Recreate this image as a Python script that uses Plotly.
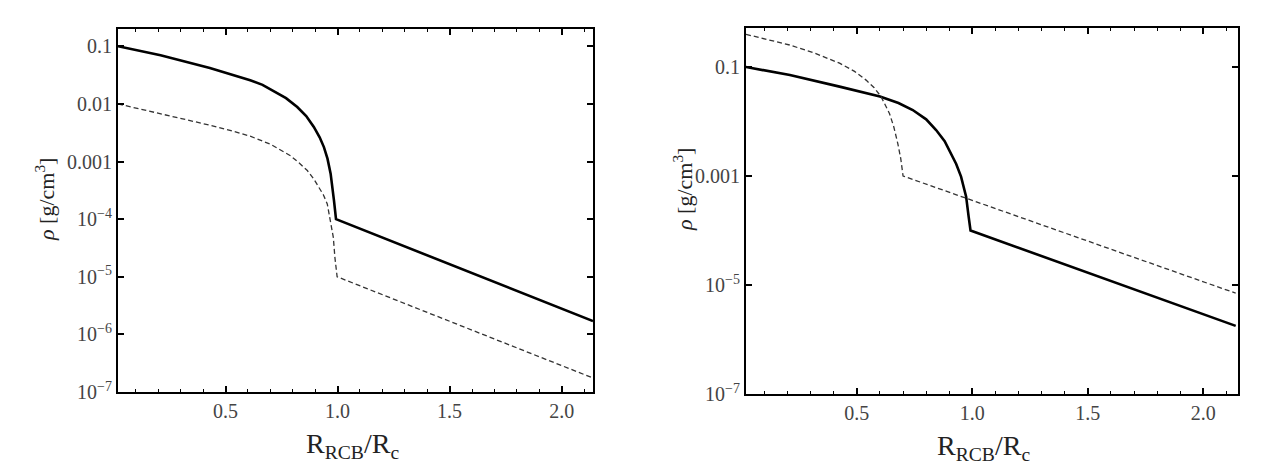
import plotly.graph_objects as go

# left panel: solid and dashed density profiles
left_solid_x = [0.02, 0.21, 0.43, 0.52, 0.61, 0.665, 0.71, 0.77, 0.82, 0.86, 0.894, 0.92, 0.939,
                0.955, 0.969, 0.977, 0.984, 0.993, 2.14]
left_solid_rho = [0.100, 0.0697, 0.0420, 0.0331, 0.0257, 0.0214, 0.0172, 0.0126, 0.00881, 0.00617,
                  0.00398, 0.00263, 0.00178, 0.00112, 0.000617, 0.00038, 0.000209, 0.0001, 1.70e-6]

left_dash_x = [0.02, 0.25, 0.43, 0.52, 0.61, 0.70, 0.79, 0.83, 0.865, 0.895, 0.917, 0.937, 0.954,
               0.969, 0.981, 0.988, 0.998, 2.14]
left_dash_rho = [0.0100, 0.0063, 0.00427, 0.00347, 0.00275, 0.00200, 0.00126, 0.000933, 0.000697,
                 0.000490, 0.000357, 0.000263, 0.000184, 0.0000942, 0.0000483, 0.0000217, 0.00001,
                 1.75e-7]

# right panel
right_solid_x = [0.02, 0.21, 0.425, 0.60, 0.68, 0.742, 0.80, 0.843, 0.88, 0.908, 0.93, 0.951,
                 0.973, 0.984, 0.992, 2.14]
right_solid_rho = [0.100, 0.0713, 0.0437, 0.0288, 0.0219, 0.01626, 0.01096, 0.00698, 0.00437,
                   0.00261, 0.00166, 0.000977, 0.000417, 0.000178, 0.0001, 1.78e-6]

right_dash_x = [0.02, 0.209, 0.32, 0.425, 0.49, 0.54, 0.575, 0.605, 0.641, 0.66, 0.677, 0.69,
                0.70, 2.14]
right_dash_rho = [0.398, 0.2535, 0.178, 0.1175, 0.0832, 0.0575, 0.0417, 0.0285, 0.0141, 0.00794,
                  0.00398, 0.00209, 0.001, 7.08e-6]

left_yticks = [1e-7, 1e-6, 1e-5, 1e-4, 1e-3, 1e-2, 1e-1]
left_ylabels = ["10<sup>\u22127</sup>", "10<sup>\u22126</sup>", "10<sup>\u22125</sup>",
                "10<sup>\u22124</sup>", "0.001", "0.01", "0.1"]
right_yticks = [1e-7, 1e-5, 1e-3, 1e-1]
right_ylabels = ["10<sup>\u22127</sup>", "10<sup>\u22125</sup>", "0.001", "0.1"]
xticks = [0.5, 1.0, 1.5, 2.0]
xlabels = ["0.5", "1.0", "1.5", "2.0"]

FONT = "Liberation Serif"
W, H = 1266, 472

fig = go.Figure()
fig.add_trace(go.Scatter(x=left_solid_x, y=left_solid_rho, mode="lines",
                         line=dict(color="black", width=2.6), xaxis="x", yaxis="y"))
fig.add_trace(go.Scatter(x=left_dash_x, y=left_dash_rho, mode="lines",
                         line=dict(color="#333", width=1.3, dash="5px,3px"), xaxis="x", yaxis="y"))
fig.add_trace(go.Scatter(x=right_solid_x, y=right_solid_rho, mode="lines",
                         line=dict(color="black", width=2.6), xaxis="x2", yaxis="y2"))
fig.add_trace(go.Scatter(x=right_dash_x, y=right_dash_rho, mode="lines",
                         line=dict(color="#333", width=1.3, dash="5px,3px"), xaxis="x2", yaxis="y2"))

axis_common = dict(showline=True, linecolor="black", linewidth=2, mirror="allticks",
                   ticks="inside", ticklen=6, tickwidth=1.5, tickcolor="black",
                   showgrid=False, zeroline=False, automargin=False,
                   tickfont=dict(family=FONT, size=20, color="#444"))

xminor = dict(ticks="inside", dtick=0.1, tick0=0, ticklen=3, tickwidth=1.2, tickcolor="black", showgrid=False)

fig.update_layout(
    width=W, height=H,
    margin=dict(l=0, r=0, t=0, b=0, autoexpand=False),
    paper_bgcolor="white", plot_bgcolor="white",
    showlegend=False,
    xaxis=dict(domain=[118 / W, 593 / W], range=[0.02, 2.14], anchor="y",
               tickvals=xticks, ticktext=xlabels, minor=xminor, **axis_common),
    yaxis=dict(domain=[1 - 392 / H, 1 - 29 / H], type="log", range=[-7, -0.70], anchor="x",
               tickvals=left_yticks, ticktext=left_ylabels, **axis_common),
    xaxis2=dict(domain=[746 / W, 1238 / W], range=[0.02, 2.15], anchor="y2",
                tickvals=xticks, ticktext=xlabels, minor=xminor, **axis_common),
    yaxis2=dict(domain=[1 - 394 / H, 1 - 28 / H], type="log", range=[-7, -0.284], anchor="x2",
                tickvals=right_yticks, ticktext=right_ylabels, **axis_common),
)

xtitle = "R<sub>RCB</sub>/R<sub>c</sub>"
ytitle = "<i>\u03c1</i> [g/cm<sup>3</sup>]"
for xc, yc in [(352, 445), (983, 447)]:
    fig.add_annotation(x=xc / W, y=1 - yc / H, xref="paper", yref="paper", text=xtitle,
                       xanchor="center", yanchor="middle",
                       showarrow=False, font=dict(family=FONT, size=28, color="#222"))
for xc, yc in [(45, 200), (683, 190)]:
    fig.add_annotation(x=xc / W, y=1 - yc / H, xref="paper", yref="paper", text=ytitle,
                       xanchor="center", yanchor="middle",
                       textangle=-90, showarrow=False, font=dict(family=FONT, size=22, color="#222"))

# drop the default page margin so the figure sits at the window's corner
fig.write_html("out.html", config={"displayModeBar": False},
               post_script="document.body.style.margin='0';")
